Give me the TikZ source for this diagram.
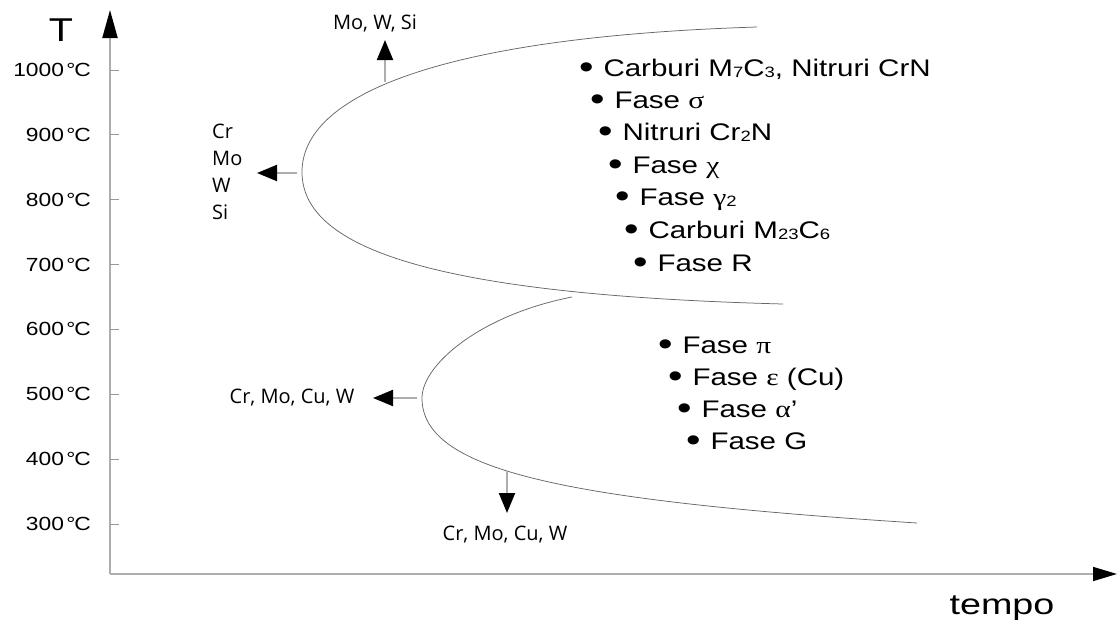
\documentclass[tikz,border=0pt]{standalone}
\usepackage{fontspec}
\setmainfont{Liberation Sans}
\newfontfamily\uifont{Open Sans}
\newfontfamily\greekfont{Liberation Serif}
\usetikzlibrary{arrows.meta}

% horizontally widened text, as in the original artwork
\newcommand\wide[2][1.23]{\scalebox{#1}[1]{#2}}
% small chemical index sitting on the baseline
\newcommand\ix[1]{\raisebox{-1.5pt}{\fontsize{15}{15}\selectfont #1}}
% greek phase symbols
\newcommand\gk[1]{{\greekfont #1}}
% bullet followed by its gap
\newcommand\bul{\raisebox{-2pt}{\scalebox{1.4}{•}}\kern8pt}

\tikzset{
  axisline/.style={draw=black!32, line width=2pt},
  yaxtip/.style={-{Triangle[length=28pt,width=15pt,color=black]}},
  xaxtip/.style={-{Triangle[length=24pt,width=14pt,color=black]}},
  tick/.style={draw=black!40, line width=1pt},
  curve/.style={draw=black!60, line width=0.75pt},
  push/.style={draw=black!32, line width=2pt, -{Triangle[length=20pt,width=16pt,color=black]}},
  templabel/.style={anchor=east, inner sep=0pt, font=\fontsize{19}{19}\selectfont},
  phase/.style={anchor=base west, inner sep=0pt, font=\fontsize{24}{24}\selectfont},
  element/.style={inner sep=0pt, font=\uifont\fontsize{20}{27}\selectfont},
}

\begin{document}
\begin{tikzpicture}[x=1pt,y=-1pt]
\useasboundingbox (0,0) rectangle (1117,629);

% axes
\coordinate (O) at (110,574);
\coordinate (ytop) at (110,10);
\coordinate (xend) at (1117,574);
\draw[axisline, yaxtip] (O) -- (ytop);
\draw[axisline, line width=1.6pt, xaxtip] (O) -- (xend);
\node[inner sep=0pt, font=\fontsize{33}{33}\selectfont] (T) at (61,30) {\wide[1.2]{T}};
\node[inner sep=0pt, font=\fontsize{29}{29}\selectfont] (tempo) at (1002,608) {\wide[1.3]{tempo}};

% temperature scale
\foreach \t [count=\i from 0] in {1000,900,800,700,600,500,400,300}{
  \pgfmathsetmacro\yy{70+64.86*\i}
  \coordinate (tk\t) at (110,\yy);
  \draw[tick] (tk\t) -- ++(9,0);
  \node[templabel] (lab\t) at (91,\yy) {\wide[1.2]{\t\kern2pt°\kern-1pt C}};
}

% upper C-curve (high temperature precipitation)
\coordinate (uTop) at (757,27);
\coordinate (uNose) at (302,172);
\coordinate (uBot) at (783,304);
\draw[curve] (uTop) .. controls (440,37) and (302,95) .. (uNose)
             .. controls (302,250) and (440,295) .. (uBot);

% lower C-curve (low temperature precipitation)
\coordinate (lTop) at (572,297);
\coordinate (lNose) at (422,398);
\coordinate (lBot) at (917,523);
\draw[curve] (lTop) .. controls (480,315) and (422,365) .. (lNose)
             .. controls (422,470) and (560,500) .. (lBot);

% effect of alloying elements on the curves
\node[element] (upEl) at (375,23) {Mo, W, Si};
\node[element, anchor=west, align=left] (noseEl) at (212,172) {Cr\\Mo\\W\\Si};
\node[element] (lowEl) at (292,398) {Cr, Mo, Cu, W};
\node[element] (downEl) at (505,535) {Cr, Mo, Cu, W};

\coordinate (a1s) at (385,82);  \coordinate (a1e) at (385,40);
\coordinate (a2s) at (297,173); \coordinate (a2e) at (257,173);
\coordinate (a3s) at (417,398); \coordinate (a3e) at (373,398);
\coordinate (a4s) at (507,471); \coordinate (a4e) at (507,513);
\draw[push] (a1s) -- (a1e);
\draw[push] (a2s) -- (a2e);
\draw[push] (a3s) -- (a3e);
\draw[push] (a4s) -- (a4e);

% phases in the upper nose
\node[phase] (p1) at (579,76)  {\wide{\bul Carburi M\ix7C\ix3, Nitruri CrN}};
\node[phase] (p2) at (590,108) {\wide{\bul Fase \gk{σ}}};
\node[phase] (p3) at (598,140) {\wide{\bul Nitruri Cr\ix2N}};
\node[phase] (p4) at (608,173) {\wide{\bul Fase \gk{χ}}};
\node[phase] (p5) at (615,205) {\wide{\bul Fase \gk{γ}\ix2}};
\node[phase] (p6) at (624,238) {\wide{\bul Carburi M\ix{23}C\ix6}};
\node[phase] (p7) at (633,271) {\wide{\bul Fase R}};

% phases in the lower nose
\node[phase] (q1) at (658,353) {\wide{\bul Fase \gk{π}}};
\node[phase] (q2) at (668,385) {\wide{\bul Fase \gk{ε} (Cu)}};
\node[phase] (q3) at (677,417) {\wide{\bul Fase \gk{α}\symbol{"27}}};
\node[phase] (q4) at (686,449) {\wide{\bul Fase G}};
\end{tikzpicture}
\end{document}
